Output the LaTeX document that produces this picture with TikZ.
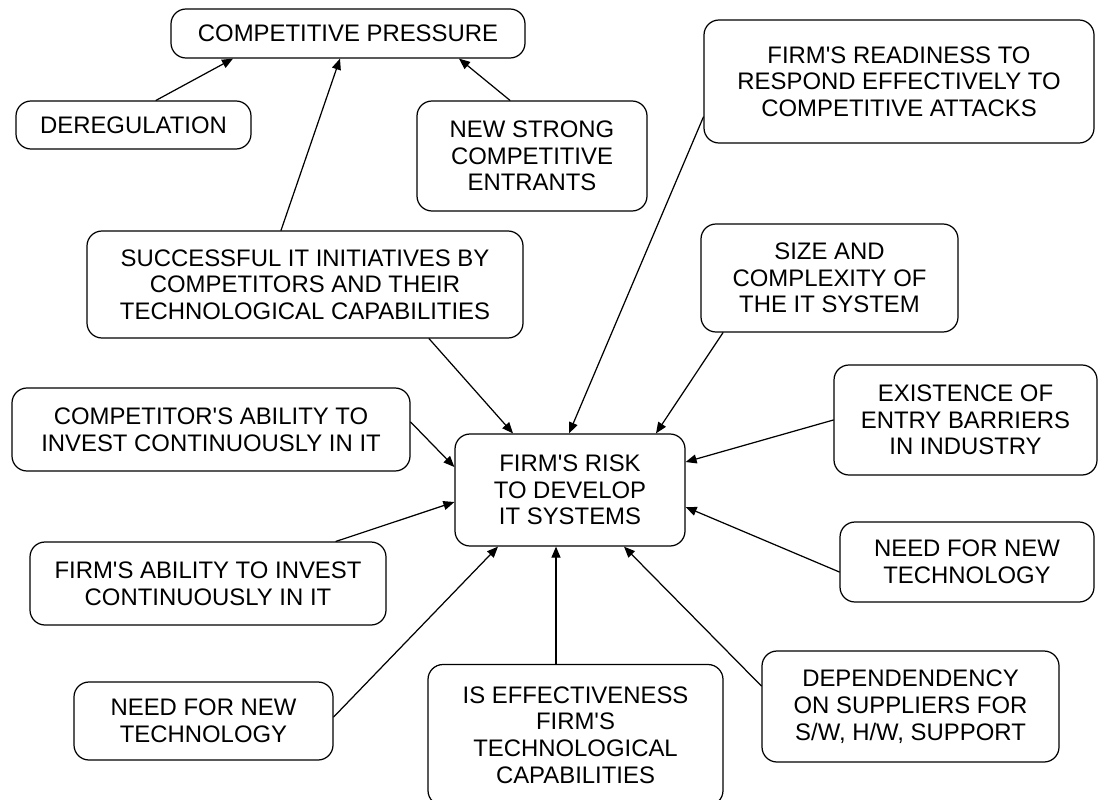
\documentclass[tikz,border=0pt]{standalone}
\usepackage{fontspec}
\setmainfont{Liberation Sans}
\usetikzlibrary{calc,arrows.meta}
\newcommand{\ap}{\textquotesingle}

\begin{document}
\begin{tikzpicture}[line cap=round,line join=round,
    cause/.style={draw,line width=0.7pt,rounded corners=0.3cm,align=center,
      inner sep=0pt,font=\fontsize{13.6}{15.2}\selectfont},
    link/.style={line width=0.7pt,-{Triangle[length=2.2mm,width=1.8mm]}}]
  \useasboundingbox (0,0) rectangle (21.98,15.98);
  % boxes
  \node[cause,minimum width=7.08cm,minimum height=0.98cm] (cp) at (6.96,15.31) {COMPETITIVE PRESSURE};
  \node[cause,minimum width=4.70cm,minimum height=0.96cm] (dereg) at (2.67,13.48) {DEREGULATION};
  \node[cause,minimum width=4.60cm,minimum height=2.20cm] (entrants) at (10.64,12.86) {NEW STRONG\\COMPETITIVE\\ENTRANTS};
  \node[cause,minimum width=7.80cm,minimum height=2.46cm] (ready) at (17.98,14.35) {FIRM\ap S READINESS TO\\RESPOND EFFECTIVELY TO\\COMPETITIVE ATTACKS};
  \node[cause,minimum width=8.72cm,minimum height=2.14cm] (succ) at (6.10,10.29) {SUCCESSFUL IT INITIATIVES BY\\COMPETITORS AND THEIR\\TECHNOLOGICAL CAPABILITIES};
  \node[cause,minimum width=5.14cm,minimum height=2.16cm] (size) at (16.59,10.42) {SIZE AND\\COMPLEXITY OF\\THE IT SYSTEM};
  \node[cause,minimum width=7.96cm,minimum height=1.66cm] (compinv) at (4.22,7.39) {COMPETITOR\ap S ABILITY TO\\INVEST CONTINUOUSLY IN IT};
  \node[cause,minimum width=5.26cm,minimum height=2.20cm] (barrier) at (19.31,7.58) {EXISTENCE OF\\ENTRY BARRIERS\\IN INDUSTRY};
  \node[cause,minimum width=4.60cm,minimum height=2.24cm] (risk) at (11.40,6.18) {FIRM\ap S RISK\\TO DEVELOP\\IT SYSTEMS};
  \node[cause,minimum width=7.12cm,minimum height=1.66cm] (firminv) at (4.16,4.31) {FIRM\ap S ABILITY TO INVEST\\CONTINUOUSLY IN IT};
  \node[cause,minimum width=5.08cm,minimum height=1.60cm] (needr) at (19.34,4.74) {NEED FOR NEW\\TECHNOLOGY};
  \node[cause,minimum width=5.18cm,minimum height=1.56cm] (needl) at (4.07,1.56) {NEED FOR NEW\\TECHNOLOGY};
  \node[cause,minimum width=5.90cm,minimum height=2.82cm] (iseff) at (11.51,1.28) {IS EFFECTIVENESS\\FIRM\ap S\\TECHNOLOGICAL\\CAPABILITIES};
  \node[cause,minimum width=5.94cm,minimum height=2.22cm] (depend) at (18.21,1.85) {DEPENDENDENCY\\ON SUPPLIERS FOR\\S/W, H/W, SUPPORT};
  % into competitive pressure
  \draw[link] ($(dereg.north)+(0.45,0)$) -- ($(cp.south)+(-2.30,0)$);
  \draw[link] ($(entrants.north)+(-0.44,0)$) -- ($(cp.south)+(2.22,0)$);
  \draw[link] ($(succ.north)+(-0.48,0)$) -- ($(cp.south)+(-0.16,0)$);
  % into firm's risk
  \draw[link] ($(succ.south)+(2.48,0)$) -- ($(risk.north)+(-1.14,0)$);
  \draw[link] ($(ready.west)+(0,-0.71)$) -- ($(risk.north)+(-0.02,0)$);
  \draw[link] ($(size.south)+(-2.13,0)$) -- ($(risk.north)+(1.72,0)$);
  \draw[link] ($(compinv.east)+(0,0.15)$) -- ($(risk.west)+(0,0.46)$);
  \draw[link] ($(firminv.north)+(2.56,0)$) -- ($(risk.west)+(0,-0.24)$);
  \draw[link] (barrier.west) -- ($(risk.east)+(0,0.56)$);
  \draw[link] ($(needr.west)+(0,-0.20)$) -- ($(risk.east)+(0,-0.34)$);
  \draw[link] ($(needl.east)+(0,0.08)$) -- ($(risk.south)+(-1.44,0)$);
  \draw[link] ($(iseff.north)+(-0.39,0)$) -- ($(risk.south)+(-0.28,0)$);
  \draw[link] ($(depend.west)+(0,0.41)$) -- ($(risk.south)+(1.08,0)$);
\end{tikzpicture}
\end{document}
